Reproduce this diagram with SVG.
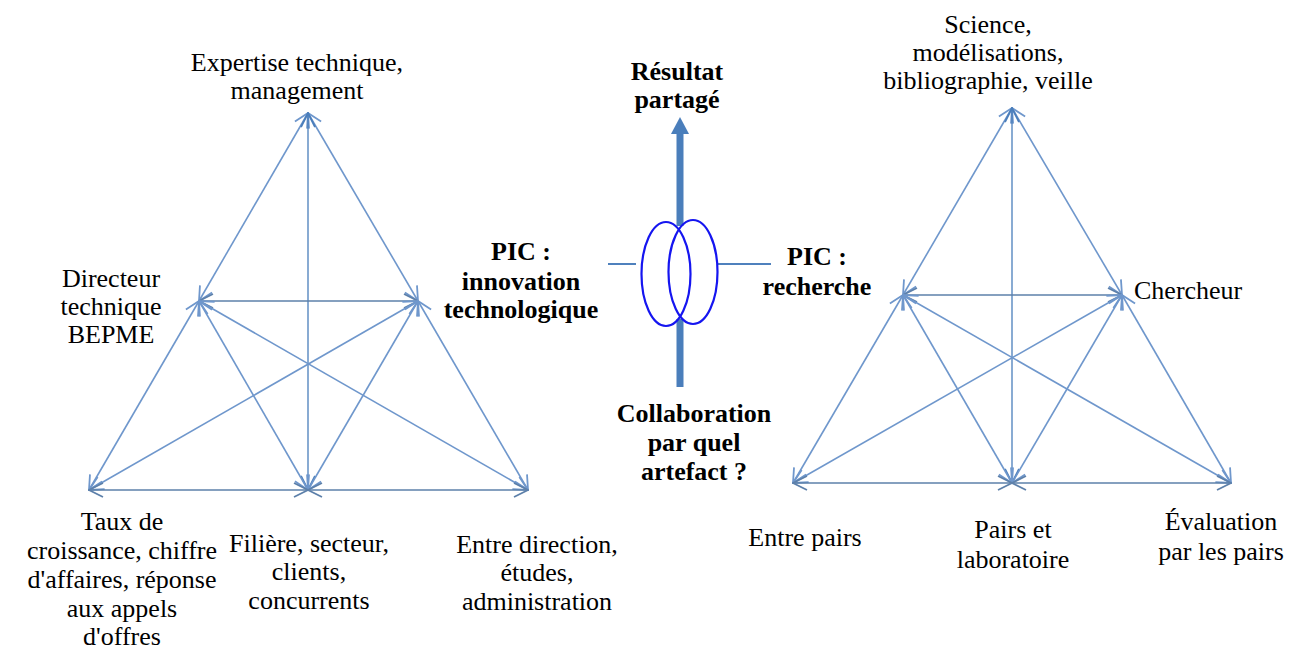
<svg xmlns="http://www.w3.org/2000/svg" width="1289" height="648" viewBox="0 0 1289 648">
<style>
.t{font-family:"Liberation Serif","Times New Roman",serif;font-size:26px;fill:#000;text-anchor:middle}
.b{font-weight:bold}
.d{stroke:#6f97cc;stroke-width:1.6;fill:none;marker-start:url(#ad);marker-end:url(#ad)}
.v{stroke:#4a7ebb;stroke-width:1.3;fill:none;marker-start:url(#av);marker-end:url(#av)}
.h{stroke:#5d80aa;stroke-width:1.5;fill:none;marker-start:url(#ah);marker-end:url(#ah)}
.c{stroke:#4f81bd;stroke-width:2;fill:none}
.e{stroke:#1515f0;stroke-width:2.2;fill:none}
</style>
<defs>
<marker id="ad" viewBox="0 0 16 16" refX="15" refY="8" markerWidth="16" markerHeight="16" markerUnits="userSpaceOnUse" orient="auto-start-reverse"><path d="M1,1 L15,8 L1,15" fill="none" stroke="#6f97cc" stroke-width="1.8"/></marker>
<marker id="av" viewBox="0 0 16 16" refX="15" refY="8" markerWidth="16" markerHeight="16" markerUnits="userSpaceOnUse" orient="auto-start-reverse"><path d="M1,1 L15,8 L1,15" fill="none" stroke="#4a7ebb" stroke-width="1.8"/></marker>
<marker id="ah" viewBox="0 0 16 16" refX="15" refY="8" markerWidth="16" markerHeight="16" markerUnits="userSpaceOnUse" orient="auto-start-reverse"><path d="M1,1 L15,8 L1,15" fill="none" stroke="#5d80aa" stroke-width="1.8"/></marker>
</defs>
<rect width="1289" height="648" fill="#fff"/>
<g id="connectors">
<!-- left triangle -->
<line class="d" x1="199" y1="301" x2="308" y2="113"/>
<line class="d" x1="418" y1="301" x2="308" y2="113"/>
<line class="v" x1="308" y1="113" x2="308" y2="490"/>
<line class="h" x1="199" y1="301" x2="418" y2="301"/>
<line class="d" x1="199" y1="301" x2="89" y2="490"/>
<line class="d" x1="199" y1="301" x2="308" y2="490"/>
<line class="d" x1="199" y1="301" x2="528" y2="490"/>
<line class="d" x1="418" y1="301" x2="89" y2="490"/>
<line class="d" x1="418" y1="301" x2="308" y2="490"/>
<line class="d" x1="418" y1="301" x2="528" y2="490"/>
<line class="h" x1="89" y1="490" x2="308" y2="490"/>
<line class="h" x1="308" y1="490" x2="528" y2="490"/>
<!-- right triangle -->
<line class="d" x1="903" y1="295" x2="1012" y2="108"/>
<line class="d" x1="1122" y1="295" x2="1012" y2="108"/>
<line class="v" x1="1012" y1="108" x2="1012" y2="483"/>
<line class="h" x1="903" y1="295" x2="1122" y2="295"/>
<line class="d" x1="903" y1="295" x2="793" y2="483"/>
<line class="d" x1="903" y1="295" x2="1012" y2="483"/>
<line class="d" x1="903" y1="295" x2="1231" y2="483"/>
<line class="d" x1="1122" y1="295" x2="793" y2="483"/>
<line class="d" x1="1122" y1="295" x2="1012" y2="483"/>
<line class="d" x1="1122" y1="295" x2="1231" y2="483"/>
<line class="h" x1="793" y1="483" x2="1012" y2="483"/>
<line class="h" x1="1012" y1="483" x2="1231" y2="483"/>
<!-- center -->
<line class="c" x1="608" y1="264" x2="636" y2="264"/>
<line class="c" x1="718" y1="264" x2="771" y2="264"/>
<rect x="676.5" y="132" width="7" height="94" fill="#4a7ebb"/>
<polygon points="680,117 671,134 689,134" fill="#4a7ebb"/>
<rect x="676.5" y="319" width="7" height="68" fill="#4a7ebb"/>
</g>
<g id="node-center">
<ellipse class="e" cx="666" cy="274" rx="24.5" ry="52"/>
<ellipse class="e" cx="693" cy="272" rx="24.5" ry="52"/>
</g>
<g id="node-resultat"><text class="t b" x="677" y="80">Résultat</text><text class="t b" x="677" y="108">partagé</text></g>
<g id="node-collab"><text class="t b" x="694" y="422">Collaboration</text><text class="t b" x="694" y="451">par quel</text><text class="t b" x="694" y="480">artefact ?</text></g>
<g id="node-pic-innov"><text class="t b" x="521" y="260">PIC :</text><text class="t b" x="521" y="290">innovation</text><text class="t b" x="521" y="318">technologique</text></g>
<g id="node-pic-rech"><text class="t b" x="817" y="265">PIC :</text><text class="t b" x="817" y="295">recherche</text></g>
<g id="node-expertise"><text class="t" x="297" y="71">Expertise technique,</text><text class="t" x="297" y="99">management</text></g>
<g id="node-directeur"><text class="t" x="111" y="287">Directeur</text><text class="t" x="111" y="315">technique</text><text class="t" x="111" y="343">BEPME</text></g>
<g id="node-taux"><text class="t" x="122" y="530">Taux de</text><text class="t" x="122" y="559">croissance, chiffre</text><text class="t" x="122" y="588">d'affaires, réponse</text><text class="t" x="122" y="617">aux appels</text><text class="t" x="122" y="645">d'offres</text></g>
<g id="node-filiere"><text class="t" x="309" y="552">Filière, secteur,</text><text class="t" x="309" y="580">clients,</text><text class="t" x="309" y="609">concurrents</text></g>
<g id="node-direction"><text class="t" x="537" y="553">Entre direction,</text><text class="t" x="537" y="581">études,</text><text class="t" x="537" y="610">administration</text></g>
<g id="node-science"><text class="t" x="988" y="33">Science,</text><text class="t" x="988" y="61">modélisations,</text><text class="t" x="988" y="89">bibliographie, veille</text></g>
<g id="node-chercheur"><text class="t" x="1134" y="299" style="text-anchor:start">Chercheur</text></g>
<g id="node-entre-pairs"><text class="t" x="805" y="546">Entre pairs</text></g>
<g id="node-pairs-labo"><text class="t" x="1013" y="538">Pairs et</text><text class="t" x="1013" y="568">laboratoire</text></g>
<g id="node-evaluation"><text class="t" x="1221" y="530">Évaluation</text><text class="t" x="1221" y="560">par les pairs</text></g>
</svg>
